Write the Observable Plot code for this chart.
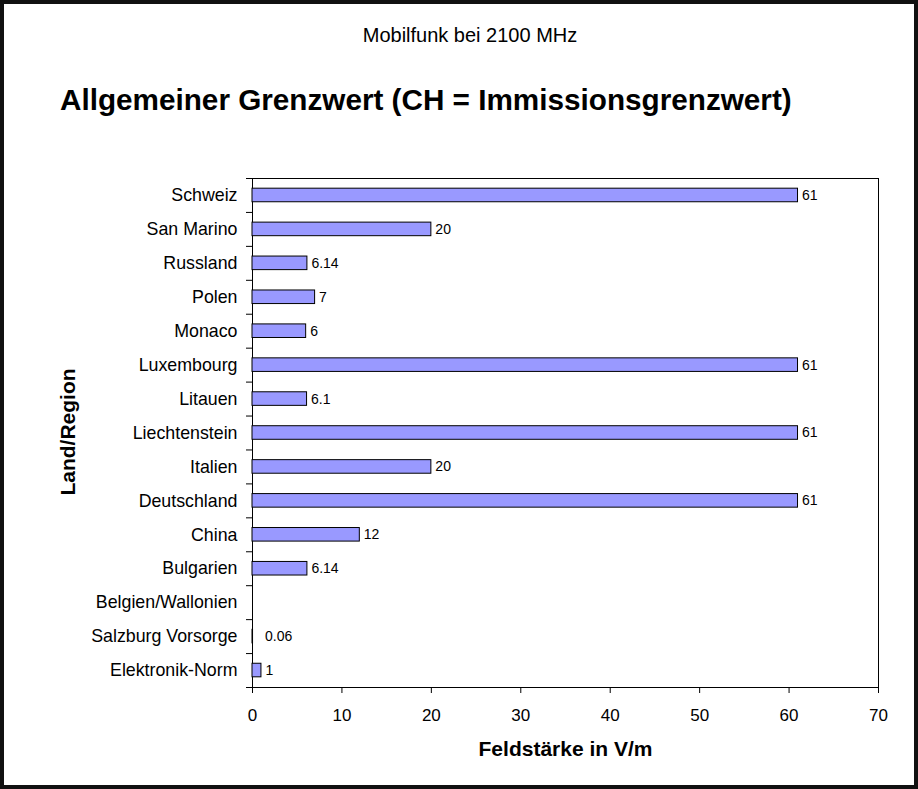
<!DOCTYPE html>
<html>
<head>
<meta charset="utf-8">
<script src="https://cdn.jsdelivr.net/npm/d3@7"></script>
<script src="https://cdn.jsdelivr.net/npm/@observablehq/plot@0.6"></script>
<style>
  html, body { margin: 0; padding: 0; background: #fff; }
  #wrap { position: relative; width: 918px; height: 789px; overflow: hidden; font-family: "Liberation Sans", Arial, sans-serif; color: #000; }
  #chart { position: absolute; left: 0; top: 0; }
  #border { position: absolute; left: 0; top: 0; width: 918px; height: 789px; box-sizing: border-box; border: 4px solid #111; pointer-events: none; }
  .t1 { position: absolute; left: 0; width: 940px; top: 25px; text-align: center; font-size: 20px; line-height: 20px; white-space: nowrap; }
  .t2 { position: absolute; left: 60px; top: 85px; font-size: 29.7px; line-height: 30px; font-weight: bold; white-space: nowrap; }
</style>
</head>
<body>
<div id="wrap">
  <div class="t1">Mobilfunk bei 2100 MHz</div>
  <div class="t2">Allgemeiner Grenzwert (CH = Immissionsgrenzwert)</div>
  <div id="chart"></div>
  <div id="border"></div>
</div>
<script>
const categories = ["Schweiz","San Marino","Russland","Polen","Monaco","Luxembourg","Litauen","Liechtenstein","Italien","Deutschland","China","Bulgarien","Belgien/Wallonien","Salzburg Vorsorge","Elektronik-Norm"];
const values = [61, 20, 6.14, 7, 6, 61, 6.1, 61, 20, 61, 12, 6.14, null, 0.06, 1];
const valueLabels = ["61","20","6.14","7","6","61","6.1","61","20","61","12","6.14","","0.06","1"];
const xTicks = [0, 10, 20, 30, 40, 50, 60, 70];
const xLabel = "Feldstärke in V/m";
const yLabel = "Land/Region";

const data = categories.map((c, i) => ({cat: c, value: values[i], label: valueLabels[i]}));
const withValue = data.filter(d => d.value != null);
const tiny = withValue.filter(d => d.value < 0.5);
const normal = withValue.filter(d => d.value >= 0.5);

const W = 918, H = 789, mL = 252, mR = 40, mT = 178, mB = 102;
const step = (H - mT - mB) / categories.length;

const chart = Plot.plot({
  width: W, height: H,
  marginLeft: mL, marginRight: mR, marginTop: mT, marginBottom: mB,
  style: {fontFamily: '"Liberation Sans", Arial, sans-serif', color: "#000", background: "transparent", overflow: "visible"},
  x: {domain: [0, 70], ticks: xTicks},
  y: {domain: categories, paddingInner: 0.6, paddingOuter: 0.3, round: false},
  marks: [
    Plot.frame({stroke: "#000", strokeWidth: 1}),
    Plot.barX(withValue, {x: "value", y: "cat", fill: "#9999ff", stroke: "#000", strokeWidth: 1}),
    Plot.text(normal, {x: "value", y: "cat", text: "label", textAnchor: "start", dx: 4, fontSize: 14, fill: "#000"}),
    Plot.text(tiny, {x: "value", y: "cat", text: "label", textAnchor: "start", dx: 12, fontSize: 14, fill: "#000"}),
    Plot.axisX({ticks: xTicks, tickSize: 6, tickPadding: 15, fontSize: 17, label: null, tickFormat: d => String(d), stroke: "#000"}),
    Plot.axisY({tickSize: 0, tickPadding: 15, fontSize: 17.8, label: null}),
    Plot.axisY({tickSize: 6, tickFormat: () => "", label: null, dy: -step / 2, stroke: "#000"}),
    Plot.axisY({ticks: [categories[categories.length - 1]], tickSize: 6, tickFormat: () => "", label: null, dy: step / 2, stroke: "#000"}),
    Plot.text([xLabel], {frameAnchor: "bottom", textAnchor: "middle", lineAnchor: "middle", dy: 62, text: d => d, fontSize: 21, fontWeight: "bold", fill: "#000"}),
    Plot.text([yLabel], {frameAnchor: "left", textAnchor: "middle", lineAnchor: "middle", dx: -184, dy: -1, rotate: -90, text: d => d, fontSize: 21, fontWeight: "bold", fill: "#000"})
  ]
});
document.getElementById("chart").appendChild(chart);
</script>
</body>
</html>
